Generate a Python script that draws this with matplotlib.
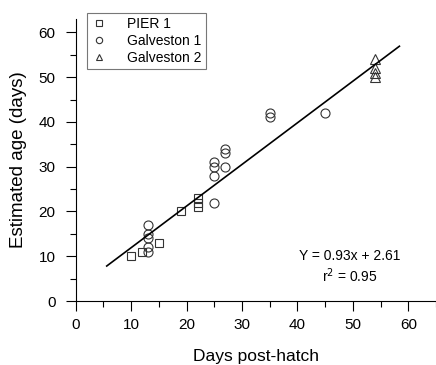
import matplotlib
matplotlib.use("Agg")
import numpy as np
import matplotlib.pyplot as plt
from matplotlib.ticker import MultipleLocator

plt.rcParams['font.family'] = ['Liberation Sans', 'DejaVu Sans']

# data
pier_x = [10, 12, 15, 19, 22, 22, 22]
pier_y = [10, 11, 13, 20, 21, 22, 23]

galv1_x = [13, 13, 13, 13, 13, 25, 25, 25, 25, 27, 27, 27, 35, 35, 45]
galv1_y = [17, 15, 14, 12, 11, 22, 31, 30, 28, 34, 33, 30, 42, 41, 42]

galv2_x = [54, 54, 54, 54]
galv2_y = [54, 52, 51, 50]

slope = 0.93
intercept = 2.61
r2 = 0.95
fit_range = [5.6, 58.4]

fig = plt.figure(figsize=(4.36, 3.65), dpi=100)
ax = fig.add_axes([0.1736, 0.1753, 0.8264, 0.7726])

mk = dict(linestyle='none', markerfacecolor='none', markeredgecolor='#333333',
          markeredgewidth=0.8)
ax.plot(pier_x, pier_y, marker='s', markersize=5.5, label='PIER 1', **mk)
ax.plot(galv1_x, galv1_y, marker='o', markersize=6.5, label='Galveston 1', **mk)
ax.plot(galv2_x, galv2_y, marker='^', markersize=6.5, label='Galveston 2', **mk)

fx = np.array(fit_range)
ax.plot(fx, slope * fx + intercept, color='black', lw=1.2)

ax.text(49.5, 10.1, f"Y = {slope}x + {intercept}", ha='center', va='center', fontsize=10)
ax.text(49.5, 5.6, f"r$^2$ = {r2}", ha='center', va='center', fontsize=10)

ax.set_xlim(0, 65)
ax.set_ylim(0, 63)
ax.xaxis.set_major_locator(MultipleLocator(10))
ax.xaxis.set_minor_locator(MultipleLocator(5))
ax.yaxis.set_major_locator(MultipleLocator(10))
ax.yaxis.set_minor_locator(MultipleLocator(5))
ax.tick_params(which='major', length=7.5, width=0.8, labelsize=11)
ax.tick_params(axis='x', which='major', pad=5)
ax.tick_params(axis='y', which='major', pad=7)
ax.tick_params(which='minor', length=4, width=0.8)
for s in ['top', 'right']:
    ax.spines[s].set_visible(False)
for s in ['left', 'bottom']:
    ax.spines[s].set_linewidth(0.8)

ax.set_xlabel('Days post-hatch', fontsize=12.5, labelpad=12)
ax.set_ylabel('Estimated age (days)', fontsize=13.5, labelpad=8)

leg = ax.legend(loc='upper left', bbox_to_anchor=(0.031, 1.022), fontsize=10,
                frameon=True, fancybox=False, edgecolor='#555555',
                markerscale=0.7, handlelength=1.2, handletextpad=1.4,
                borderpad=0.3, labelspacing=0.2, borderaxespad=0.0)
leg.get_frame().set_linewidth(0.8)
leg.set_clip_on(False)

fig.savefig('out.png', dpi=100)
